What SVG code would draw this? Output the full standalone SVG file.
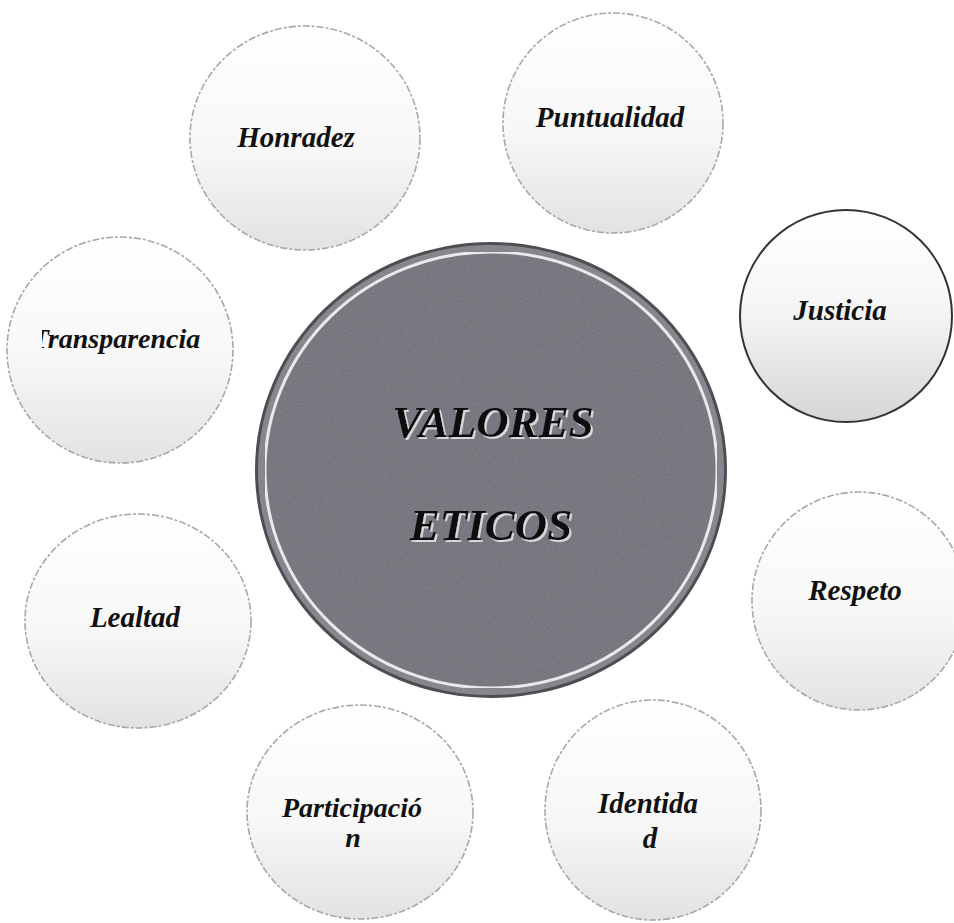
<svg xmlns="http://www.w3.org/2000/svg" width="954" height="923" viewBox="0 0 954 923">
  <defs>
    <linearGradient id="bub" x1="0" y1="0" x2="0" y2="1">
      <stop offset="0" stop-color="#ffffff"/>
      <stop offset="0.55" stop-color="#f7f7f7"/>
      <stop offset="1" stop-color="#e2e2e2"/>
    </linearGradient>
    <linearGradient id="bubDark" x1="0" y1="0" x2="0" y2="1">
      <stop offset="0" stop-color="#ffffff"/>
      <stop offset="0.45" stop-color="#f6f6f6"/>
      <stop offset="1" stop-color="#d6d6d6"/>
    </linearGradient>
    <filter id="grain" x="0" y="0" width="1" height="1">
      <feTurbulence type="fractalNoise" baseFrequency="0.9" numOctaves="2" seed="3" result="n"/>
      <feColorMatrix in="n" type="matrix" values="0 0 0 0 0.4  0 0 0 0 0.4  0 0 0 0 0.45  0 0 0 0.35 0" result="g"/>
      <feComposite in="g" in2="SourceGraphic" operator="in" result="gc"/>
      <feMerge><feMergeNode in="SourceGraphic"/><feMergeNode in="gc"/></feMerge>
    </filter>
    <filter id="glow" x="-10%" y="-30%" width="120%" height="160%">
      <feOffset in="SourceAlpha" dx="2" dy="2" result="off"/>
      <feFlood flood-color="#d8d8dc"/>
      <feComposite in2="off" operator="in" result="sh"/>
      <feMerge><feMergeNode in="sh"/><feMergeNode in="SourceGraphic"/></feMerge>
    </filter>
    <clipPath id="clipT"><rect x="42" y="300" width="200" height="80"/></clipPath>
  </defs>
  <style>
    .bubble { fill: url(#bub); stroke: #a8a8a8; stroke-width: 1.6; stroke-dasharray: 7 2 3 2; }
    .lbl { font-family: "Liberation Serif", "Times New Roman", serif; font-weight: bold; font-style: italic; font-size: 29px; fill: #111; text-anchor: middle; }
    .big { font-family: "Liberation Serif", "Times New Roman", serif; font-weight: bold; font-style: italic; font-size: 45px; fill: #111; text-anchor: middle; filter: url(#glow); }
  </style>
  <rect width="954" height="923" fill="#ffffff"/>

  <g id="center">
    <ellipse cx="491" cy="470" rx="236" ry="228" fill="#4e4e52"/>
    <ellipse cx="491" cy="470" rx="233" ry="225" fill="#7e7e84" filter="url(#grain)"/>
    <ellipse cx="491" cy="470" rx="226" ry="218" fill="#6a6a72" stroke="#f4f4f4" stroke-width="3" filter="url(#grain)"/>
    <text class="big" x="493" y="437">VALORES</text>
    <text class="big" x="491" y="540">ETICOS</text>
  </g>

  <g id="honradez">
    <ellipse class="bubble" cx="305" cy="138" rx="115" ry="112"/>
    <text class="lbl" x="296" y="147">Honradez</text>
  </g>
  <g id="puntualidad">
    <ellipse class="bubble" cx="613" cy="123" rx="110" ry="110"/>
    <text class="lbl" x="610" y="127">Puntualidad</text>
  </g>
  <g id="justicia">
    <ellipse cx="846" cy="316" rx="106" ry="106" fill="url(#bubDark)" stroke="#333" stroke-width="2"/>
    <text class="lbl" x="840" y="320">Justicia</text>
  </g>
  <g id="transparencia">
    <ellipse class="bubble" cx="120" cy="350" rx="113" ry="113"/>
    <text class="lbl" x="116" y="348" style="font-size:28px" clip-path="url(#clipT)">Transparencia</text>
  </g>
  <g id="respeto">
    <ellipse class="bubble" cx="859" cy="601" rx="107" ry="109"/>
    <text class="lbl" x="855" y="600">Respeto</text>
  </g>
  <g id="lealtad">
    <ellipse class="bubble" cx="138" cy="621" rx="113" ry="107"/>
    <text class="lbl" x="135" y="627">Lealtad</text>
  </g>
  <g id="participacion">
    <ellipse class="bubble" cx="360" cy="812" rx="113" ry="107"/>
    <text class="lbl" x="352" y="817" style="font-size:28px">Participació</text>
    <text class="lbl" x="353" y="847" style="font-size:28px">n</text>
  </g>
  <g id="identidad">
    <ellipse class="bubble" cx="653" cy="810" rx="108" ry="110"/>
    <text class="lbl" x="648" y="813">Identida</text>
    <text class="lbl" x="650" y="848">d</text>
  </g>
</svg>
